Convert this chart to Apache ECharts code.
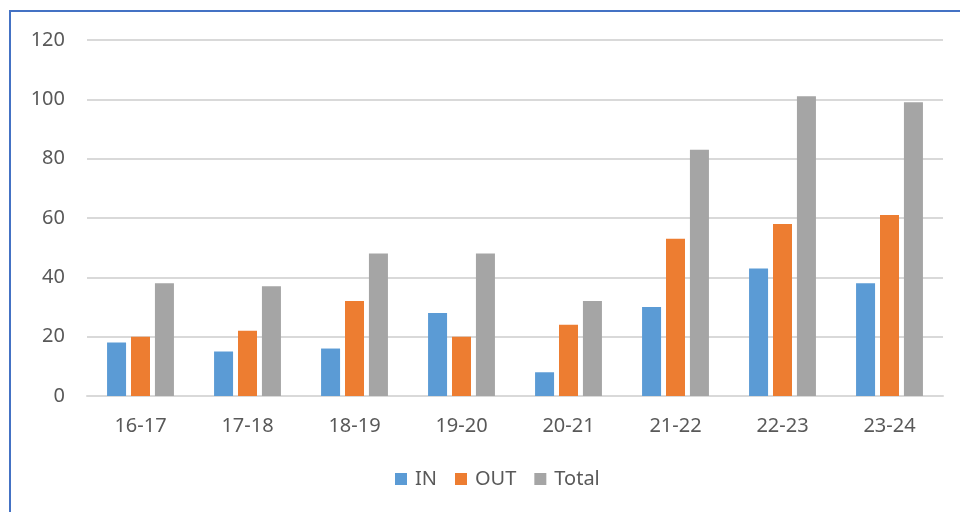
<!DOCTYPE html>
<html>
<head>
<meta charset="utf-8">
<script src="https://cdn.jsdelivr.net/npm/echarts@6/dist/echarts.min.js"></script>
<style>
html,body{margin:0;padding:0;background:#fff;}
#frame{position:absolute;left:9px;top:10px;width:951px;height:502px;border-left:2px solid #4472C4;border-top:2px solid #4472C4;box-sizing:border-box;}
#chart{position:absolute;left:0;top:0;width:960px;height:512px;}
</style>
</head>
<body>
<div id="frame"></div>
<div id="chart"></div>
<script>
const categories = ['16-17','17-18','18-19','19-20','20-21','21-22','22-23','23-24'];
const inValues = [18, 15, 16, 28, 8, 30, 43, 38];
const outValues = [20, 22, 32, 20, 24, 53, 58, 61];
const totalValues = [38, 37, 48, 48, 32, 83, 101, 99];
const yTicks = { min: 0, max: 120, interval: 20 };

const font = 'Noto Sans';
const chart = echarts.init(document.getElementById('chart'));
chart.setOption({
  animation: false,
  textStyle: { fontFamily: font },
  grid: { left: 87, right: 17, top: 40, bottom: 116 },
  legend: {
    bottom: 18,
    left: 390,
    itemWidth: 12,
    itemHeight: 12,
    itemGap: 18,
    icon: 'rect',
    textStyle: { color: '#595959', fontSize: 20, fontFamily: font, padding: [0, 0, 0, 3] },
    data: ['IN', 'OUT', 'Total']
  },
  xAxis: {
    type: 'category',
    data: categories,
    axisLine: { lineStyle: { color: '#D9D9D9', width: 2 } },
    axisTick: { show: false },
    axisLabel: { color: '#595959', fontSize: 20, margin: 20, fontFamily: font },
  },
  yAxis: {
    type: 'value',
    min: yTicks.min, max: yTicks.max, interval: yTicks.interval,
    axisLine: { show: false },
    axisTick: { show: false },
    axisLabel: { color: '#595959', fontSize: 20, margin: 22, fontFamily: font },
    splitLine: { lineStyle: { color: '#D9D9D9', width: 2 } }
  },
  series: [
    { name: 'IN', type: 'bar', data: inValues, barWidth: 19, barGap: '26%', itemStyle: { color: '#5B9BD5' } },
    { name: 'OUT', type: 'bar', data: outValues, barWidth: 19, barGap: '26%', itemStyle: { color: '#ED7D31' } },
    { name: 'Total', type: 'bar', data: totalValues, barWidth: 19, barGap: '26%', itemStyle: { color: '#A5A5A5' } }
  ]
});
</script>
</body>
</html>
